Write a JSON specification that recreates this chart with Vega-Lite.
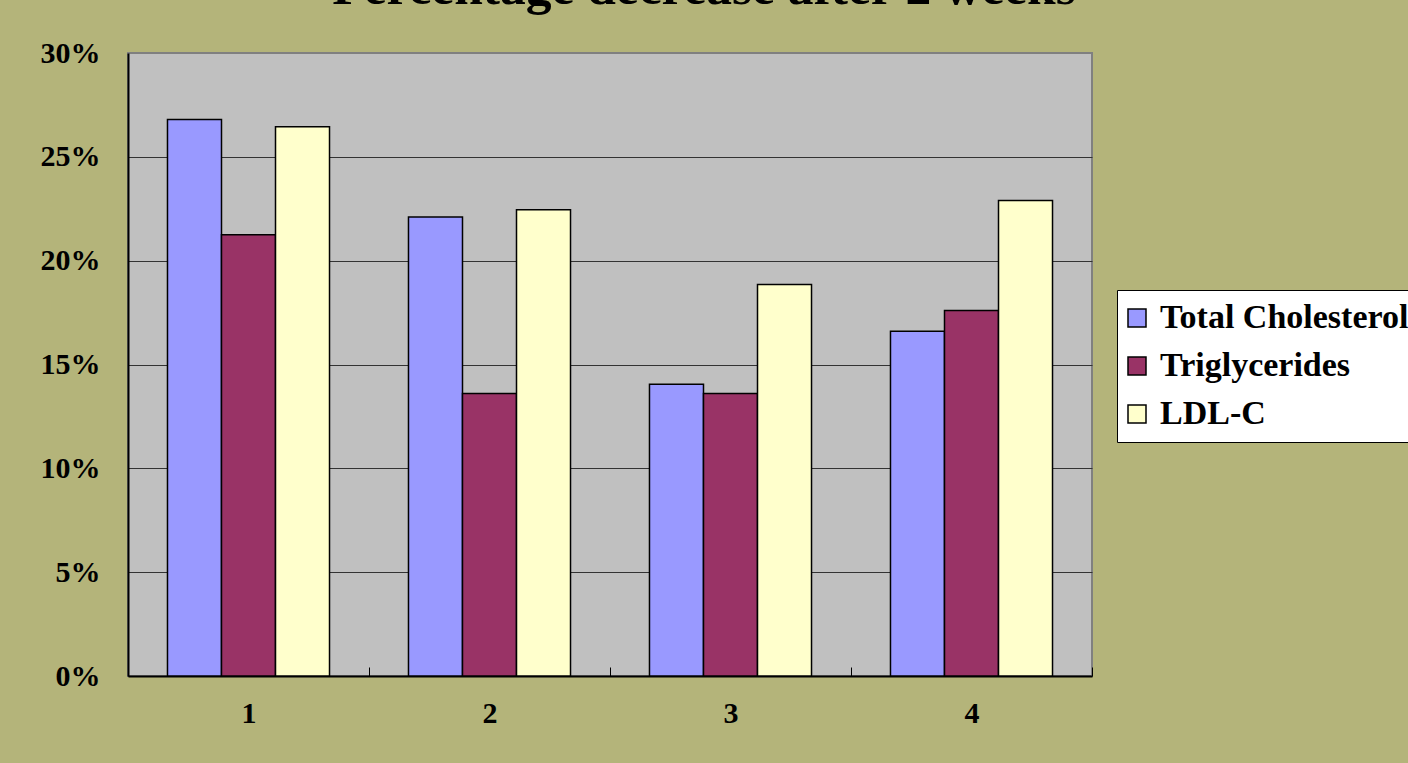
{
  "$schema": "https://vega.github.io/schema/vega-lite/v6.json",
  "width": 964,
  "height": 623,
  "autosize": {"type": "none"},
  "padding": {"left": 128, "top": 53, "right": 316, "bottom": 87},
  "background": "#b4b47a",
  "title": {
    "text": "Percentage decrease after 2 weeks",
    "font": "Liberation Serif",
    "fontSize": 51.5,
    "fontWeight": "bold",
    "color": "black",
    "anchor": "middle",
    "frame": "group",
    "baseline": "alphabetic",
    "offset": 34,
    "dx": 94,
    "dy": 51
  },
  "data": {
    "values": [
      {"group": "1", "measure": "Total Cholesterol", "value": 0.268},
      {"group": "1", "measure": "Triglycerides", "value": 0.2125},
      {"group": "1", "measure": "LDL-C", "value": 0.2645},
      {"group": "2", "measure": "Total Cholesterol", "value": 0.221},
      {"group": "2", "measure": "Triglycerides", "value": 0.136},
      {"group": "2", "measure": "LDL-C", "value": 0.2245},
      {"group": "3", "measure": "Total Cholesterol", "value": 0.1405},
      {"group": "3", "measure": "Triglycerides", "value": 0.136},
      {"group": "3", "measure": "LDL-C", "value": 0.1885},
      {"group": "4", "measure": "Total Cholesterol", "value": 0.166},
      {"group": "4", "measure": "Triglycerides", "value": 0.176},
      {"group": "4", "measure": "LDL-C", "value": 0.229}
    ]
  },
  "mark": {"type": "bar", "stroke": "black", "strokeWidth": 1.5},
  "encoding": {
    "x": {
      "field": "group",
      "type": "nominal",
      "scale": {"paddingInner": 0, "paddingOuter": 0},
      "axis": {
        "title": null,
        "labelAngle": 0,
        "labelFont": "Liberation Serif",
        "labelFontSize": 30,
        "labelFontWeight": "bold",
        "labelColor": "black",
        "labelPadding": 31,
        "tickBand": "extent",
        "tickSize": -9,
        "tickColor": "black",
        "tickWidth": 1,
        "domainColor": "black",
        "domainWidth": 2,
        "grid": false
      }
    },
    "xOffset": {
      "field": "measure",
      "type": "nominal",
      "scale": {"domain": ["Total Cholesterol", "Triglycerides", "LDL-C"], "paddingInner": 0, "paddingOuter": 0.731}
    },
    "y": {
      "field": "value",
      "type": "quantitative",
      "scale": {"domain": [0, 0.3], "nice": false},
      "axis": {
        "title": null,
        "values": [0, 0.05, 0.1, 0.15, 0.2, 0.25, 0.3],
        "format": ".0%",
        "labelFont": "Liberation Serif",
        "labelFontSize": 30,
        "labelFontWeight": "bold",
        "labelColor": "black",
        "labelPadding": 28,
        "ticks": false,
        "domainColor": "black",
        "domainWidth": 2,
        "grid": true,
        "gridColor": {"condition": {"test": "datum.value >= 0.3 || datum.value <= 0", "value": "transparent"}, "value": "#333333"},
        "gridWidth": 1.2
      }
    },
    "color": {
      "field": "measure",
      "type": "nominal",
      "scale": {"domain": ["Total Cholesterol", "Triglycerides", "LDL-C"], "range": ["#9999ff", "#993366", "#ffffcc"]},
      "legend": {
        "title": null,
        "orient": "none",
        "legendX": 989,
        "legendY": 237,
        "symbolType": "square",
        "symbolSize": 324,
        "symbolStrokeColor": "black",
        "symbolStrokeWidth": 1.5,
        "symbolOffset": -8,
        "labelFont": "Liberation Serif",
        "labelFontSize": 34,
        "labelFontWeight": "bold",
        "labelColor": "black",
        "labelOffset": 6,
        "rowPadding": 14,
        "padding": 11,
        "fillColor": "white",
        "strokeColor": "black",
        "labelLimit": 400
      }
    }
  },
  "config": {
    "view": {"fill": "#c0c0c0", "stroke": "#808080", "strokeWidth": 2}
  }
}
